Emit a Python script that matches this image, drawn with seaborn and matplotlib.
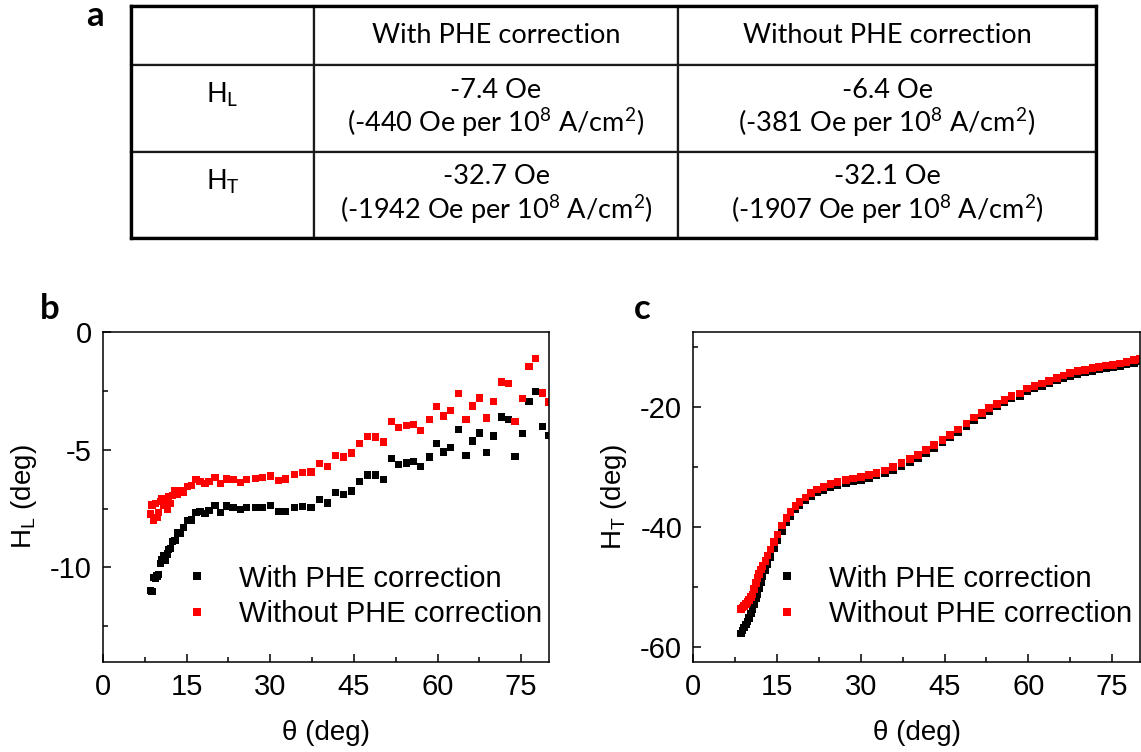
import matplotlib
matplotlib.use("Agg")
import matplotlib.pyplot as plt
from matplotlib.ticker import MultipleLocator
from matplotlib.lines import Line2D
import pandas as pd
import seaborn as sns

# ---------------- data ----------------
theta = [8.5, 8.8, 9.1, 9.4, 9.7, 10.0, 10.3, 10.6, 10.9, 11.2, 11.5, 11.8, 12.1, 12.4,
         12.9, 13.3, 13.8, 14.4, 15.1, 15.9, 16.7, 17.4, 18.3, 19.0,
         20.1, 21.1, 22.2, 23.3, 24.6, 25.8, 27.3, 28.6, 30.0,
         31.5, 32.8, 34.3, 35.8, 37.3, 38.8, 40.2, 41.7, 43.1, 44.6,
         46.0, 47.4, 48.9, 50.3, 51.7, 53.0, 54.4, 55.7, 57.0, 58.5,
         59.8, 61.1, 62.4, 63.7, 65.1, 66.3, 67.5, 68.8, 70.1, 71.5,
         72.7, 73.9, 75.2, 76.4, 77.6, 78.9, 80.0]

hl_with = [-10.97, -11.03, -10.43, -10.45, -10.36, -10.29, -9.83, -9.65, -9.51, -9.72, -9.43, -9.25, -9.19, -8.91,
           -8.87, -8.54, -8.54, -8.30, -8.01, -7.99, -7.66, -7.63, -7.70, -7.59,
           -7.37, -7.66, -7.39, -7.45, -7.54, -7.45, -7.45, -7.45, -7.37,
           -7.62, -7.62, -7.45, -7.42, -7.45, -7.12, -7.26, -6.81, -6.89, -6.75,
           -6.34, -6.07, -6.07, -6.27, -5.37, -5.63, -5.56, -5.50, -5.71, -5.31,
           -4.72, -5.10, -4.89, -4.15, -5.23, -4.63, -4.29, -5.13, -4.42, -3.61,
           -3.71, -5.29, -4.32, -2.96, -2.53, -4.01, -4.40]

hl_without = [-7.73, -7.35, -8.01, -7.27, -7.87, -7.66, -7.20, -7.09, -7.37, -7.16, -7.52, -6.99, -7.27, -6.95,
              -6.73, -6.88, -6.73, -6.81, -6.55, -6.52, -6.28, -6.34, -6.42, -6.35,
              -6.17, -6.42, -6.24, -6.28, -6.38, -6.25, -6.21, -6.18, -6.12,
              -6.31, -6.24, -6.05, -5.98, -5.95, -5.60, -5.71, -5.24, -5.31, -5.14,
              -4.75, -4.45, -4.46, -4.67, -3.79, -4.04, -3.98, -3.94, -4.18, -3.72,
              -3.18, -3.57, -3.34, -2.61, -3.71, -3.14, -2.80, -3.65, -2.94, -2.12,
              -2.19, -3.79, -2.83, -1.48, -1.11, -2.59, -2.97]

ht_with = [-57.8, -57.3, -56.8, -56.3, -55.8, -55.2, -54.5, -53.8, -53.0, -52.0, -51.2, -50.2, -49.2, -48.3,
           -47.2, -46.2, -45.0, -43.6, -42.3, -40.8, -39.3, -38.2, -37.1, -36.4,
           -35.6, -34.9, -34.3, -33.9, -33.4, -33.0, -32.65, -32.4, -32.15,
           -31.85, -31.45, -31.05, -30.5, -29.85, -29.15, -28.5, -27.65, -26.85, -25.95,
           -25.1, -24.25, -23.2, -22.25, -21.45, -20.65, -19.95, -19.25, -18.6, -18.2,
           -17.35, -16.95, -16.55, -16.1, -15.6, -15.2, -14.8, -14.5, -14.25, -14.0,
           -13.75, -13.55, -13.45, -13.2, -12.95, -12.65, -12.45]

ht_without = [-53.7, -53.5, -53.2, -52.9, -52.6, -52.2, -51.7, -51.3, -50.4, -49.4, -48.6, -47.9, -47.1, -46.5,
              -45.7, -44.8, -43.8, -42.5, -41.3, -39.8, -38.5, -37.5, -36.5, -35.9,
              -35.1, -34.4, -33.8, -33.4, -32.9, -32.5, -32.2, -31.95, -31.7,
              -31.4, -31.0, -30.6, -30.05, -29.4, -28.7, -28.05, -27.2, -26.4, -25.5,
              -24.65, -23.8, -22.75, -21.8, -21.0, -20.2, -19.5, -18.8, -18.15, -17.75,
              -16.9, -16.5, -16.1, -15.65, -15.15, -14.75, -14.35, -14.05, -13.8, -13.55,
              -13.3, -13.1, -13.0, -12.75, -12.5, -12.2, -12.0]

series_names = ["With PHE correction", "Without PHE correction"]
series_colors = ["black", "red"]

table_header = ["", "With PHE correction", "Without PHE correction"]
table_rows = ["H$_\\mathregular{L}$\n ", "H$_\\mathregular{T}$\n "]
table_with = ["-7.4 Oe\n(-440 Oe per 10$^\\mathregular{8}$ A/cm$^\\mathregular{2}$)",
              "-32.7 Oe\n(-1942 Oe per 10$^\\mathregular{8}$ A/cm$^\\mathregular{2}$)"]
table_without = ["-6.4 Oe\n(-381 Oe per 10$^\\mathregular{8}$ A/cm$^\\mathregular{2}$)",
                 "-32.1 Oe\n(-1907 Oe per 10$^\\mathregular{8}$ A/cm$^\\mathregular{2}$)"]

# ---------------- style ----------------
sns.set_theme(style="ticks")
plt.rcParams["font.family"] = ["Liberation Sans", "DejaVu Sans"]
plt.rcParams["axes.unicode_minus"] = False
for key in ["text.color", "axes.labelcolor", "xtick.color", "ytick.color", "axes.edgecolor"]:
    plt.rcParams[key] = "black"

W, H = 1141, 752
fig = plt.figure(figsize=(W / 100, H / 100), dpi=100)
fig.patch.set_facecolor("white")

palette = dict(zip(series_names, series_colors))


def long_df(x, y1, y2):
    return pd.DataFrame({
        "theta": list(x) + list(x),
        "value": list(y1) + list(y2),
        "series": [series_names[0]] * len(x) + [series_names[1]] * len(x),
    })


def style_axes(ax, ylim, ymajor, yminor, ylabel):
    ax.set_xlim(0, 80)
    ax.set_ylim(*ylim)
    ax.xaxis.set_major_locator(MultipleLocator(15))
    ax.xaxis.set_minor_locator(MultipleLocator(7.5))
    ax.yaxis.set_major_locator(MultipleLocator(ymajor))
    ax.yaxis.set_minor_locator(MultipleLocator(yminor))
    ax.tick_params(which="both", direction="in", top=False, right=False,
                   labelsize=21, width=1.1, colors="black", pad=8)
    ax.tick_params(which="major", length=6)
    ax.tick_params(which="minor", length=3.5)
    for s in ax.spines.values():
        s.set_visible(True)
        s.set_linewidth(1.1)
        s.set_color("black")
    ax.set_xlabel("\u03b8 (deg)", fontsize=20, labelpad=14, color="black")
    ax.set_ylabel(ylabel, fontsize=20, labelpad=8, color="black")
    handles = [Line2D([], [], marker="s", linestyle="none", markersize=5.2,
                      markerfacecolor=c, markeredgewidth=0, color=c) for c in series_colors]
    leg = ax.legend(handles, series_names, loc="center left", bbox_to_anchor=(0.148, 0.1975),
                    frameon=False, fontsize=21, handlelength=1.9, handletextpad=0.5,
                    borderpad=0, borderaxespad=0, labelspacing=0.27)
    for t in leg.get_texts():
        t.set_color("black")


# panel b
axb = fig.add_axes([103 / W, 1 - 661.6 / H, 446 / W, 329.6 / H])
sns.scatterplot(data=long_df(theta, hl_with, hl_without), x="theta", y="value",
                hue="series", palette=palette, marker="s", s=27, linewidth=0,
                legend=False, ax=axb, clip_on=True)
style_axes(axb, (-14, 0), 5, 2.5, "H$_\\mathregular{L}$ (deg)")

# panel c
axc = fig.add_axes([693.3 / W, 1 - 661.6 / H, 446.7 / W, 329.6 / H])
sns.scatterplot(data=long_df(theta, ht_with, ht_without), x="theta", y="value",
                hue="series", palette=palette, marker="s", s=30, linewidth=0,
                legend=False, ax=axc, clip_on=True)
style_axes(axc, (-62.5, -7.5), 20, 10, "H$_\\mathregular{T}$ (deg)")

# panel a: table
tax = fig.add_axes([131 / W, 1 - 238 / H, (1096 - 131) / W, (238 - 6) / H])
tax.set_xticks([])
tax.set_yticks([])
cell_text = [table_header,
             [table_rows[0], table_with[0], table_without[0]],
             [table_rows[1], table_with[1], table_without[1]]]
col_w = [183, 364, 418]
tbl = tax.table(cellText=cell_text, cellLoc="center",
                colWidths=[c / sum(col_w) for c in col_w], bbox=[0, 0, 1, 1])
tbl.auto_set_font_size(False)
row_h = [59, 87, 86]
for (r, c), cell in tbl.get_celld().items():
    cell.set_height(row_h[r] / sum(row_h))
    cell.set_linewidth(1.6)
    t = cell.get_text()
    t.set_fontfamily(["Lato", "DejaVu Sans"])
    t.set_fontsize(19.5)
    t.set_color("black")
    t.set_linespacing(1.12)
for s in tax.spines.values():
    s.set_linewidth(2.4)
    s.set_color("black")
    s.set_zorder(5)

# panel letters
fig.text(95 / W, 1 - 16 / H, "a", fontsize=25, fontweight="bold", family="Lato",
         ha="center", va="center", color="black")
fig.text(50 / W, 1 - 309 / H, "b", fontsize=25, fontweight="bold", family="Lato",
         ha="center", va="center", color="black")
fig.text(642 / W, 1 - 309 / H, "c", fontsize=25, fontweight="bold", family="Lato",
         ha="center", va="center", color="black")

fig.savefig("out.png", dpi=100)
